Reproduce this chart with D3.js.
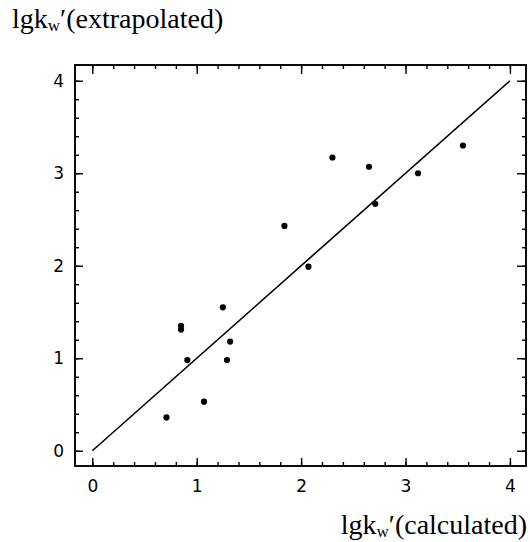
<!DOCTYPE html>
<html><head><meta charset="utf-8">
<script src="https://cdn.jsdelivr.net/npm/d3@7"></script>
<style>
html,body{margin:0;padding:0;background:#fff;}
svg{display:block;}
.tick text{font-family:"DejaVu Sans","Liberation Sans",Arial,sans-serif;}
</style></head>
<body><div id="chart"></div>
<script>
// Data
const calculated   = [0.71, 0.85, 0.85, 0.91, 1.07, 1.25, 1.29, 1.32, 1.84, 2.07, 2.30, 2.65, 2.71, 3.12, 3.55];
const extrapolated = [0.36, 1.35, 1.31, 0.98, 0.53, 1.55, 0.98, 1.18, 2.43, 1.99, 3.17, 3.07, 2.67, 3.00, 3.30];
const fitLine = [[0, 0], [4, 4]];
const majorTicks = [0, 1, 2, 3, 4];
const minorTicks = d3.range(0, 21).map(i => i / 5);
const xTitle = ["lgk", "w", "\u2032(calculated)"];
const yTitle = ["lgk", "w", "\u2032(extrapolated)"];

const W = 530, H = 542;
const L = 75, R = 526, T = 65, B = 466;

const svg = d3.select("#chart").append("svg").attr("width", W).attr("height", H);

const x = d3.scaleLinear().domain([-0.166, 4.154]).range([L, R]);
const y = d3.scaleLinear().domain([-0.165, 4.17]).range([B, T]);

function styleAxis(g){
  g.select(".domain").remove();
  g.selectAll(".tick line").attr("stroke", "#000").attr("stroke-width", 1.4);
}
const fmt = d3.format("d");
// bottom
svg.append("g").attr("transform", `translate(0,${B})`)
  .call(d3.axisBottom(x).tickValues(minorTicks).tickSize(-4).tickFormat(""))
  .call(styleAxis);
svg.append("g").attr("transform", `translate(0,${B})`)
  .call(d3.axisBottom(x).tickValues(majorTicks).tickSize(-8).tickPadding(14).tickFormat(fmt))
  .call(styleAxis)
  .call(g => g.selectAll("text").attr("font-size", 17).attr("fill", "#000"));
// top
svg.append("g").attr("transform", `translate(0,${T})`)
  .call(d3.axisTop(x).tickValues(minorTicks).tickSize(-4).tickFormat(""))
  .call(styleAxis);
svg.append("g").attr("transform", `translate(0,${T})`)
  .call(d3.axisTop(x).tickValues(majorTicks).tickSize(-9).tickFormat(""))
  .call(styleAxis);
// left
svg.append("g").attr("transform", `translate(${L},0)`)
  .call(d3.axisLeft(y).tickValues(minorTicks).tickSize(-4).tickFormat(""))
  .call(styleAxis);
svg.append("g").attr("transform", `translate(${L},0)`)
  .call(d3.axisLeft(y).tickValues(majorTicks).tickSize(-8).tickPadding(11).tickFormat(fmt))
  .call(styleAxis)
  .call(g => g.selectAll("text").attr("font-size", 17).attr("fill", "#000"));
// right
svg.append("g").attr("transform", `translate(${R},0)`)
  .call(d3.axisRight(y).tickValues(minorTicks).tickSize(-4).tickFormat(""))
  .call(styleAxis);
svg.append("g").attr("transform", `translate(${R},0)`)
  .call(d3.axisRight(y).tickValues(majorTicks).tickSize(-9).tickFormat(""))
  .call(styleAxis);

// frame
svg.append("rect").attr("x", L).attr("y", T).attr("width", R - L).attr("height", B - T)
  .attr("fill", "none").attr("stroke", "#000").attr("stroke-width", 1.9);

// fit line
svg.append("path").datum(fitLine)
  .attr("d", d3.line().x(d => x(d[0])).y(d => y(d[1])))
  .attr("fill", "none").attr("stroke", "#000").attr("stroke-width", 1.6);

// points
svg.append("g").selectAll("circle").data(calculated).join("circle")
  .attr("cx", d => x(d)).attr("cy", (d, i) => y(extrapolated[i]))
  .attr("r", 3.1).attr("fill", "#000");

// titles
function title(parts, tx, ty, anchor){
  const t = svg.append("text").attr("x", tx).attr("y", ty)
    .attr("font-family", "'Liberation Serif','Times New Roman',serif")
    .attr("font-size", 28).attr("fill", "#000").attr("text-anchor", anchor);
  t.append("tspan").text(parts[0]);
  t.append("tspan").attr("font-size", 17).attr("dy", 3).text(parts[1]);
  t.append("tspan").attr("dy", -3).text(parts[2]);
  return t;
}
title(yTitle, 12, 28, "start");
title(xTitle, 527, 534, "end");
</script></body></html>
